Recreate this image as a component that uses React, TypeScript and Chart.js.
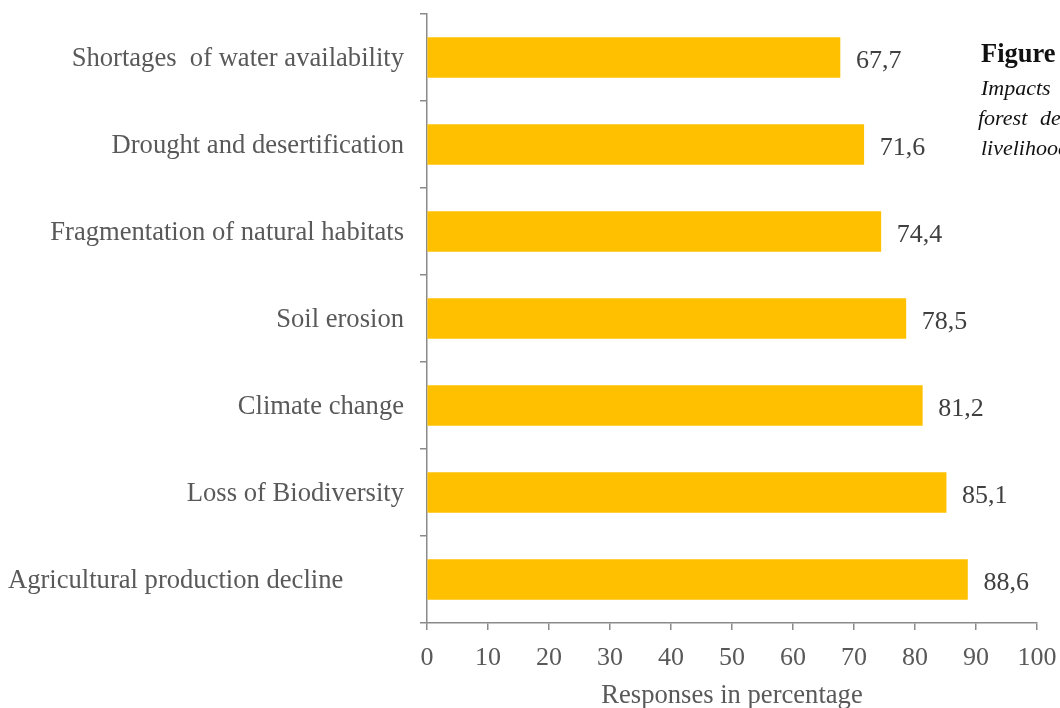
import { useEffect, useRef } from 'react';
import { Chart, registerables } from 'chart.js';

Chart.register(...registerables);

// Categories listed top to bottom
const categories = [
  'Shortages  of water availability',
  'Drought and desertification',
  'Fragmentation of natural habitats',
  'Soil erosion',
  'Climate change',
  'Loss of Biodiversity',
  'Agricultural production decline',
];

// Share of respondents (%) naming each impact
const responses = [67.7, 71.6, 74.4, 78.5, 81.2, 85.1, 88.6];

const xTickValues = [0, 10, 20, 30, 40, 50, 60, 70, 80, 90, 100];

const axisTitle = 'Responses in percentage';
const captionTitle = 'Figure';
const captionLines = ['Impacts', 'forest', 'degradation', 'livelihood'];

const SERIF = '"Liberation Serif", "Times New Roman", serif';
const TEXT = '#595959';
const AXIS = '#8a8a8a';
const BAR = '#FFC000';
const LABEL_SIZE = 26.6;
const VALUE_SIZE = 26;

const fmt = (v: number) => v.toFixed(1).replace('.', ',');

// Category names beside the vertical axis
const categoryLabels = {
  id: 'categoryLabels',
  afterDraw(chart: any) {
    const { ctx, chartArea } = chart;
    const y = chart.scales.y;
    ctx.save();
    ctx.font = `${LABEL_SIZE}px ${SERIF}`;
    ctx.fillStyle = TEXT;
    ctx.textBaseline = 'middle';
    categories.forEach((name, i) => {
      const py = y.getPixelForValue(i) + 2;
      if (i === categories.length - 1) {
        ctx.textAlign = 'left';
        ctx.fillText(name, 8, py);
      } else {
        ctx.textAlign = 'right';
        ctx.fillText(name, chartArea.left - 23, py);
      }
    });
    ctx.restore();
  },
};

// Value printed at the end of each bar
const valueLabels = {
  id: 'valueLabels',
  afterDatasetsDraw(chart: any) {
    const { ctx } = chart;
    const meta = chart.getDatasetMeta(0);
    ctx.save();
    ctx.font = `${VALUE_SIZE}px ${SERIF}`;
    ctx.fillStyle = '#404040';
    ctx.textAlign = 'left';
    ctx.textBaseline = 'middle';
    meta.data.forEach((bar: any, i: number) => {
      ctx.fillText(fmt(responses[i]), bar.x + 16, bar.y + 4);
    });
    ctx.restore();
  },
};

// Caption block at the right edge
const caption = {
  id: 'caption',
  afterDraw(chart: any) {
    const { ctx } = chart;
    ctx.save();
    ctx.textAlign = 'left';
    ctx.textBaseline = 'alphabetic';
    ctx.fillStyle = '#111111';
    ctx.font = `bold 26.5px ${SERIF}`;
    ctx.fillText(captionTitle, 981, 62);
    ctx.font = `italic 22px ${SERIF}`;
    ctx.fillText(captionLines[0], 981, 95);
    ctx.fillText(captionLines[1], 978, 125);
    ctx.fillText(captionLines[2], 1040, 125);
    ctx.fillText(captionLines[3], 981, 155);
    ctx.restore();
  },
};

export default function App() {
  const canvasRef = useRef<HTMLCanvasElement>(null);

  useEffect(() => {
    document.body.style.margin = '0';
    const canvas = canvasRef.current;
    if (!canvas) return;
    const chart = new Chart(canvas, {
      type: 'bar',
      data: {
        labels: categories,
        datasets: [
          {
            data: responses,
            backgroundColor: BAR,
            borderWidth: 0,
            barThickness: 40,
          },
        ],
      },
      options: {
        indexAxis: 'y',
        animation: false,
        responsive: false,
        maintainAspectRatio: false,
        layout: { padding: { top: 14, right: 23, left: 0, bottom: 0 } },
        plugins: {
          legend: { display: false },
          tooltip: { enabled: false },
          title: { display: false },
        },
        scales: {
          x: {
            min: 0,
            max: 100,
            afterFit(scale: any) {
              scale.height = 85;
              scale.paddingLeft = 0;
              scale.paddingRight = 0;
            },
            afterBuildTicks(scale: any) {
              scale.ticks = xTickValues.map((v) => ({ value: v }));
            },
            border: { display: true, color: AXIS, width: 1.5 },
            grid: {
              drawOnChartArea: false,
              drawTicks: true,
              tickLength: 7,
              color: AXIS,
              lineWidth: 1.5,
            },
            ticks: {
              color: TEXT,
              font: { family: SERIF, size: VALUE_SIZE },
              padding: 13,
              maxRotation: 0,
            },
            title: {
              display: true,
              text: axisTitle,
              color: TEXT,
              font: { family: SERIF, size: LABEL_SIZE },
              padding: { top: 0, bottom: -4 },
            },
          },
          y: {
            afterFit(scale: any) {
              scale.width = 427;
              scale.paddingTop = 0;
              scale.paddingBottom = 0;
            },
            border: { display: true, color: AXIS, width: 1.5 },
            grid: {
              drawOnChartArea: false,
              drawTicks: true,
              tickLength: 7,
              color: AXIS,
              lineWidth: 1.5,
              offset: true,
            },
            ticks: { display: false },
          },
        },
      },
      plugins: [categoryLabels, valueLabels, caption],
    });
    return () => chart.destroy();
  }, []);

  return (
    <div style={{ width: 1060, height: 708, background: '#fff' }}>
      <canvas ref={canvasRef} width={1060} height={708} style={{ display: 'block' }} />
    </div>
  );
}
